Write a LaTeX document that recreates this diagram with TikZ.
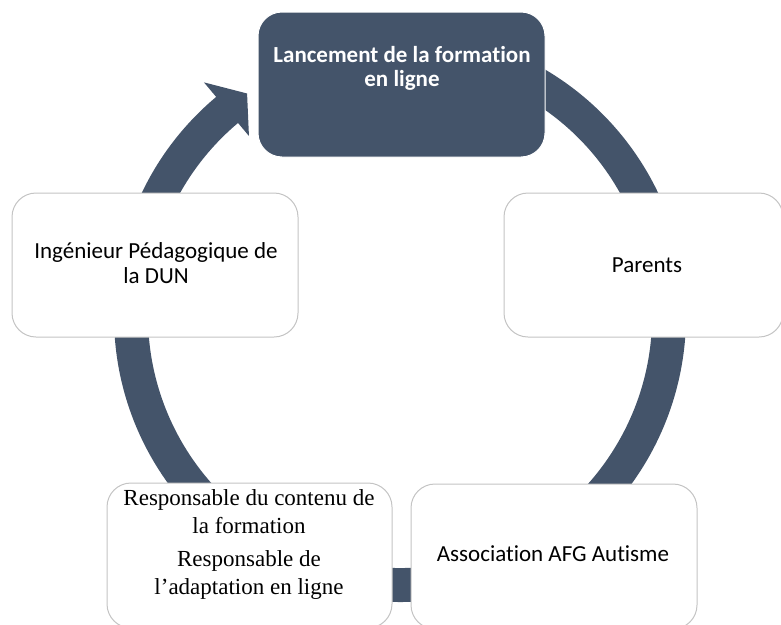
\documentclass[tikz,border=0pt]{standalone}
\usepackage{fontspec}
\setmainfont{Carlito}[Ligatures={TeX,NoCommon}]
\newfontfamily\timesfont{Liberation Serif}
\definecolor{ringc}{HTML}{44546A}
\definecolor{edgec}{HTML}{C4C4C4}
\newcommand{\mylines}[1]{\begin{tabular}[t]{@{}c@{}}#1\end{tabular}}
\begin{document}
\begin{tikzpicture}[x=1pt,y=1pt,
  box/.style={rectangle, draw=edgec, line width=1pt, fill=white, rounded corners=24pt, inner sep=0pt, outer sep=0pt},
  topbox/.style={box, draw=white, fill=ringc},
  lbl/.style={anchor=base, inner sep=0pt, outer sep=0pt, text=black},
  ]
\useasboundingbox (0,0) rectangle (781,-624);
% continuous cycle arrow
\fill[ringc, shift={(400,-316)}] (130:252) -- (130:235) -- (124.5:270) -- (130:305) -- (130:286)
  arc[start angle=130, end angle=420, radius=286pt] -- (60:252)
  arc[start angle=420, end angle=130, radius=252pt] -- cycle;
% boxes
\node[topbox, minimum width=287, minimum height=145] (launch) at (401.5,-84.5) {};
\node[box, minimum width=279, minimum height=144] (parents) at (643.5,-265) {};
\node[box, minimum width=286, minimum height=145] (assoc) at (554,-556.5) {};
\node[box, minimum width=285, minimum height=145] (resp) at (249.5,-555.5) {};
\node[box, minimum width=286, minimum height=144] (ingen) at (155,-265) {};
% texts
\node[lbl, text=white, font=\bfseries\fontsize{23}{24}\selectfont] (launchtxt) at (402,-62)
  {\mylines{Lancement de la formation\\en ligne}};
\node[lbl, font=\fontsize{23}{25}\selectfont] (parentstxt) at (647,-272) {Parents};
\node[lbl, font=\fontsize{23}{25}\selectfont] (assoctxt) at (553,-561.7) {Association AFG Autisme};
\node[lbl, font=\timesfont\fontsize{23}{28}\selectfont] (resptxt) at (249,-505)
  {\mylines{Responsable du contenu de\\la formation\\[5.7pt]Responsable de\\l’adaptation en ligne}};
\node[lbl, font=\fontsize{23}{25}\selectfont] (ingentxt) at (156,-258)
  {\mylines{Ingénieur Pédagogique de\\la DUN}};
\end{tikzpicture}
\end{document}
